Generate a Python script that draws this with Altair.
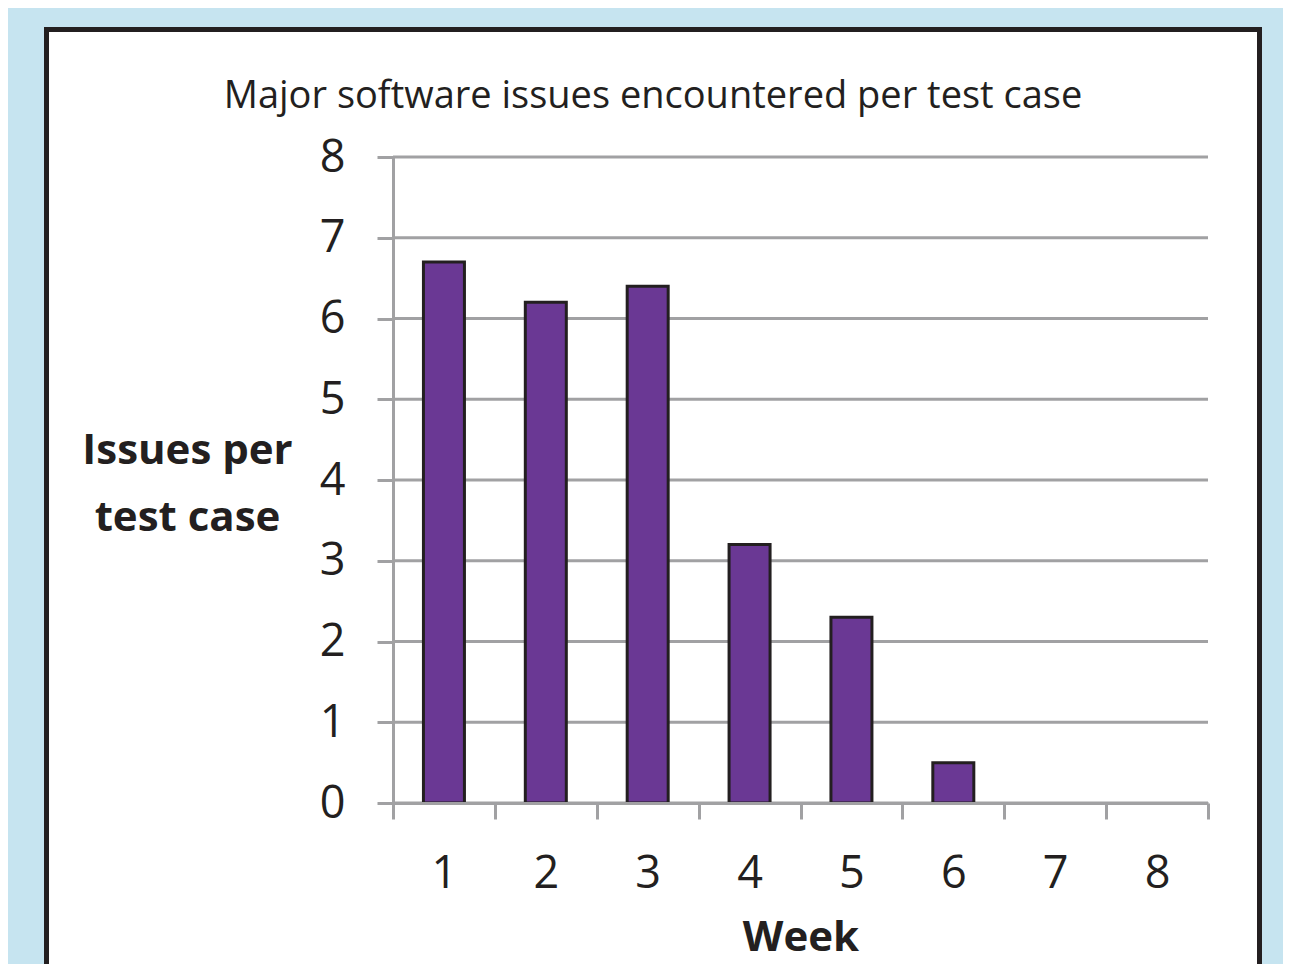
import altair as alt
import pandas as pd

weeks = ["1", "2", "3", "4", "5", "6", "7", "8"]
issues = [6.7, 6.2, 6.4, 3.2, 2.3, 0.5, 0, 0]
y_ticks = [0, 1, 2, 3, 4, 5, 6, 7, 8]

title_text = "Major software issues encountered per test case"
y_title = ["Issues per", "test case"]
x_title = "Week"

W, H = 815, 646
GRAY = "#a1a1a3"
INK = "#231f20"
PURPLE = "#6a3894"
FONT = "Open Sans"

bars_df = pd.DataFrame({"week": weeks, "issues": issues})
grid_df = pd.DataFrame({"issues": y_ticks})

y_enc = alt.Y(
    "issues:Q",
    scale=alt.Scale(domain=[0, 8], nice=False, zero=True),
    axis=alt.Axis(
        values=y_ticks,
        grid=False,
        domainColor=GRAY, domainWidth=3,
        tickColor=GRAY, tickWidth=3, tickSize=16,
        labelFont=FONT, labelFontSize=45, labelColor=INK, labelPadding=32,
        title=y_title, titleAngle=0, titleAlign="center",
        titleBaseline="alphabetic", titleX=-206, titleY=306,
        titleFont=FONT, titleFontSize=42, titleFontWeight="bold",
        titleColor=INK, titleLineHeight=67,
        zindex=1,
    ),
)

frame = alt.Chart(alt.Data(values=[{"a": 1}])).mark_rect(
    fill="white", stroke=INK, strokeWidth=5
).encode(
    x=alt.value(-346.5), x2=alt.value(866.5),
    y=alt.value(-127.5), y2=alt.value(900),
)

title = alt.Chart(alt.Data(values=[{"t": title_text}])).mark_text(
    font=FONT, fontSize=38, color=INK, align="center", baseline="alphabetic"
).encode(
    text="t:N", x=alt.value(260), y=alt.value(-49),
)

grid = alt.Chart(grid_df).mark_rule(color=GRAY, strokeWidth=3).encode(
    y=y_enc, x=alt.value(0), x2=alt.value(W)
)

bars = alt.Chart(bars_df).transform_filter(
    alt.datum.issues > 0
).mark_bar(width=41, fill=PURPLE, stroke=INK, strokeWidth=3).encode(
    x=alt.X(
        "week:N", sort=weeks,
        scale=alt.Scale(domain=weeks, paddingInner=0, paddingOuter=0),
        axis=alt.Axis(
            labelAngle=0, tickBand="extent", grid=False,
            domainColor=GRAY, domainWidth=3,
            tickColor=GRAY, tickWidth=3, tickSize=16,
            labelFont=FONT, labelFontSize=45, labelColor=INK,
            labelBaseline="alphabetic", labelPadding=68,
            title=x_title, titleAlign="center", titleBaseline="alphabetic",
            titleX=W / 2, titleY=147,
            titleFont=FONT, titleFontSize=42, titleFontWeight="bold",
            titleColor=INK, zindex=1,
        ),
    ),
    y=y_enc,
)

chart = alt.layer(frame, title, grid, bars).properties(
    width=W, height=H,
    padding={"left": 385, "top": 149, "right": 75, "bottom": 161},
    autosize=alt.AutoSizeParams(type="none"),
    background="#c6e4f0",
).configure_view(stroke=None)

chart.save("out.html", embed_options={"renderer": "svg", "actions": False})
